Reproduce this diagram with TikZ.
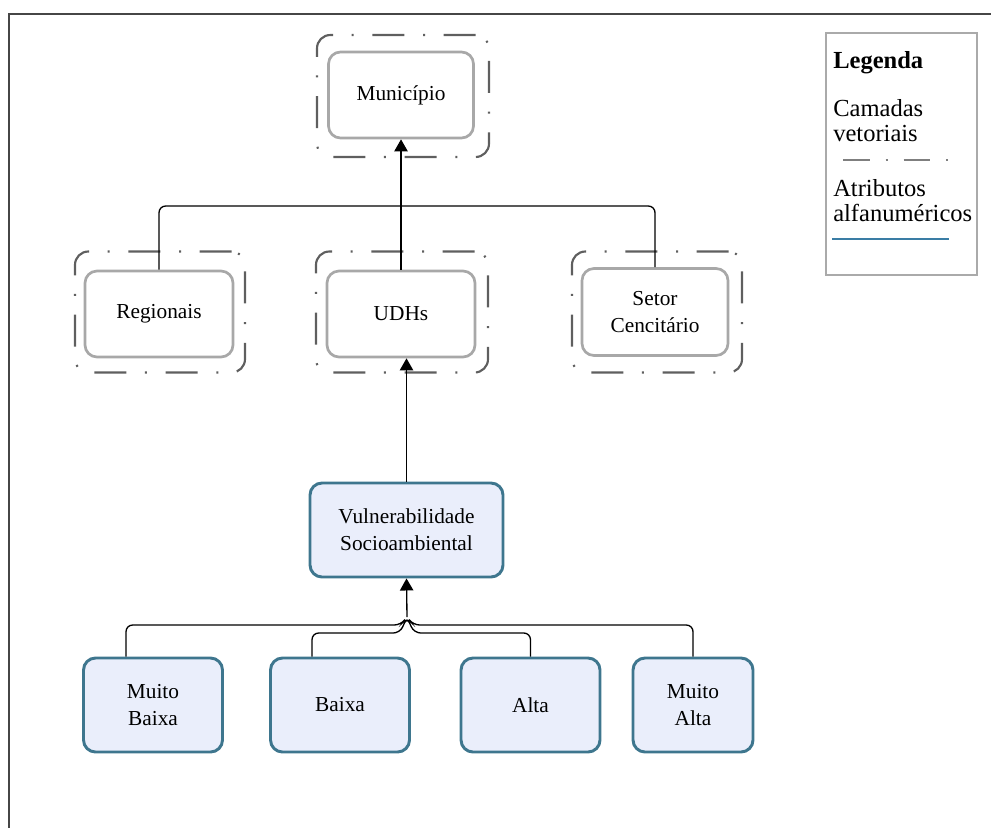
\documentclass[tikz,border=0pt]{standalone}
\usepackage{fontspec}
\setmainfont{Liberation Serif}
\usetikzlibrary{arrows.meta,calc}
\definecolor{grayborder}{RGB}{168,168,168}
\definecolor{dashgray}{RGB}{95,95,95}
\definecolor{bluefill}{RGB}{234,238,251}
\definecolor{blueborder}{RGB}{62,118,142}
\definecolor{legblue}{RGB}{58,125,165}
\definecolor{framegray}{RGB}{70,70,70}
\definecolor{leggray}{RGB}{170,170,170}
\begin{document}
\begin{tikzpicture}[x=0.75pt,y=-0.75pt,
  graybox/.style={draw=grayborder, line width=2pt, rounded corners=9pt, fill=white, align=center,
    font=\fontsize{16}{20.25}\selectfont, inner sep=0pt},
  layerbox/.style={draw=dashgray, line width=1.6pt, rounded corners=10pt,
    dash pattern=on 24pt off 14pt on 1.5pt off 14pt, inner sep=0pt},
  bluebox/.style={draw=blueborder, line width=2.2pt, fill=bluefill, rounded corners=9pt, align=center,
    font=\fontsize{16}{20.25}\selectfont, inner sep=0pt},
  conn/.style={draw=black, line width=1pt, rounded corners=5pt},
  arr/.style={conn, -{Triangle[length=9pt,width=10pt]}},
  legtext/.style={anchor=base west, align=left, font=\fontsize{18.4}{18.75}\selectfont, inner sep=0pt}
]
\useasboundingbox (0,0) rectangle (991,828);
% frame
\coordinate (tl) at (9,14);
\coordinate (tr) at (991,14);
\coordinate (bl) at (9,828);
\draw[framegray, line width=1.5pt] (tr) -- (tl) -- (bl);

% vector layers (outer dash-dot boxes)
\node[layerbox, minimum width=129pt, minimum height=91.5pt] (munO) at (403,96) {};
\node[layerbox, minimum width=127.5pt, minimum height=90.75pt] (regO) at (160,312) {};
\node[layerbox, minimum width=129pt, minimum height=90.75pt] (udhO) at (402,312) {};
\node[layerbox, minimum width=127.5pt, minimum height=90.75pt] (setO) at (657,312) {};

% inner gray boxes
\node[graybox, minimum width=108.75pt, minimum height=64.5pt] (mun) at (401,95) {Município};
\node[graybox, minimum width=111pt, minimum height=64.5pt] (reg) at (159,314) {Regionais};
\node[graybox, minimum width=111pt, minimum height=64.5pt] (udh) at (401,314) {UDHs};
\node[graybox, minimum width=109.5pt, minimum height=65.25pt] (set) at (655,312) {Setor\\Cencitário};

% blue boxes
\node[bluebox, minimum width=144.75pt, minimum height=70.5pt] (vul) at (406.5,530) {Vulnerabilidade\\Socioambiental};
\node[bluebox, minimum width=104.25pt, minimum height=70.5pt] (mb) at (153,705) {Muito\\Baixa};
\node[bluebox, minimum width=104.25pt, minimum height=70.5pt] (b) at (340,705) {Baixa};
\node[bluebox, minimum width=104.25pt, minimum height=70.5pt] (a) at (530.5,705) {Alta};
\node[bluebox, minimum width=90pt, minimum height=70.5pt] (ma) at (693,705) {Muito\\Alta};

% top connectors
\coordinate (j1) at (401,206);
\draw[conn] (reg.north) |- (j1) -| (set.north);
\draw[arr] (udh.north) -- (mun.south);

% middle connector
\draw[arr] (vul.north) -- (vul.north |- udh.south);

% bottom connectors
\coordinate (hub) at (407,617);
\coordinate (ol) at (401,625);
\coordinate (or) at (413,625);
\coordinate (il) at (400,633);
\coordinate (ir) at (414,633);
\draw[arr] (hub) -- (vul.south);
\draw[conn] ([xshift=-20.25pt]mb.north) |- (ol) -- (hub) -- (or) -| (ma.north);
\draw[conn] ([xshift=-21pt]b.north) |- (il) -- (hub) -- (ir) -| (a.north);

% legend
\node[draw=leggray, line width=1pt, minimum width=113.25pt, minimum height=181.5pt, inner sep=0pt] (leg) at (901.5,154) {};
\node[legtext, font=\fontsize{18.4}{18.75}\selectfont\bfseries] (lg1) at (833,68) {Legenda};
\node[legtext] (lg2) at (833,141) {Camadas\\vetoriais};
\coordinate (d1) at (843,160);
\coordinate (d2) at (957,160);
\draw[draw=dashgray!80, line width=1.4pt, dash pattern=on 20pt off 12pt on 1.5pt off 12pt] (d1) -- (d2);
\node[legtext] (lg3) at (833,221) {Atributos\\alfanuméricos};
\coordinate (b1) at (832,239);
\coordinate (b2) at (949,239);
\draw[legblue, line width=2.2pt] (b1) -- (b2);
\end{tikzpicture}
\end{document}
